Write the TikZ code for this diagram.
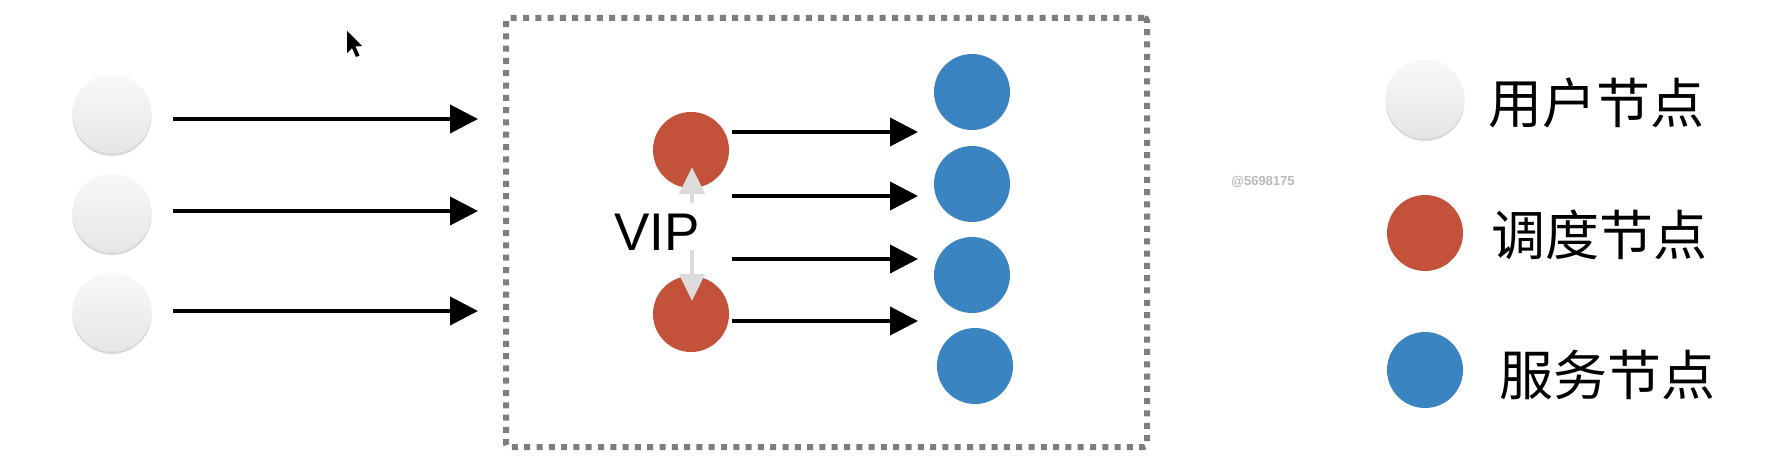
\documentclass[tikz,border=0pt]{standalone}
\usepackage{fontspec}
\setmainfont{Liberation Sans}
\newfontfamily\cjk{Noto Sans CJK SC}
\usetikzlibrary{arrows.meta,shadows}
\definecolor{redn}{HTML}{C4523A}
\definecolor{bluen}{HTML}{3A84C1}
\definecolor{boxgray}{HTML}{7E7E7E}
\definecolor{vipgray}{HTML}{DCDCDC}
\tikzset{
  usernode/.style={circle,minimum size=79pt,inner sep=0pt,top color=gray!5,bottom color=gray!20,draw=none,
    drop shadow={opacity=0.3,shadow xshift=0pt,shadow yshift=-2.5pt}},
  rednode/.style={circle,minimum size=76pt,inner sep=0pt,fill=redn,draw=none},
  bluenode/.style={circle,minimum size=76pt,inner sep=0pt,fill=bluen,draw=none},
  arr/.style={line width=4pt,-{Triangle[length=28pt,width=28pt]}},
  viparr/.style={draw=vipgray,line width=4.5pt,-{Triangle[length=27pt,width=25pt,fill=vipgray]}},
  legtext/.style={anchor=west,inner sep=0pt,font=\cjk\fontsize{54pt}{54pt}\selectfont},
}
\begin{document}
\begin{tikzpicture}[x=1pt,y=-1pt]
\useasboundingbox (0,0) rectangle (1776,468);
\fill[white] (0,0) rectangle (1776,468);
% dashed box
\node[draw=boxgray,line width=6pt,dash pattern=on 6pt off 6.3pt,rounded corners=3pt,minimum width=641pt,minimum height=429pt,inner sep=0pt] (box) at (826.5,232.5) {};
% user nodes
\node[usernode] (u1) at (112,114) {};
\node[usernode] (u2) at (112,213) {};
\node[usernode] (u3) at (112,312) {};
\coordinate (a1s) at (173,119); \coordinate (a1e) at (478,119);
\coordinate (a2s) at (173,211); \coordinate (a2e) at (478,211);
\coordinate (a3s) at (173,311); \coordinate (a3e) at (478,311);
\draw[arr] (a1s) -- (a1e);
\draw[arr] (a2s) -- (a2e);
\draw[arr] (a3s) -- (a3e);
% scheduler nodes
\node[rednode] (r1) at (691,150) {};
\node[rednode] (r2) at (691,314) {};
% VIP
\coordinate (v1s) at (692,203); \coordinate (v1e) at (692,167);
\coordinate (v2s) at (692,250); \coordinate (v2e) at (692,301);
\draw[viparr] (v1s) -- (v1e);
\draw[viparr] (v2s) -- (v2e);
\node[inner sep=0pt,font=\fontsize{53pt}{53pt}\selectfont] (vip) at (657,232) {VIP};
% service nodes
\node[bluenode] (s1) at (972,92) {};
\node[bluenode] (s2) at (972,184) {};
\node[bluenode] (s3) at (972,275) {};
\node[bluenode] (s4) at (975,366) {};
\coordinate (b1s) at (732,132); \coordinate (b1e) at (918,132);
\coordinate (b2s) at (732,196); \coordinate (b2e) at (918,196);
\coordinate (b3s) at (732,259); \coordinate (b3e) at (918,259);
\coordinate (b4s) at (732,321); \coordinate (b4e) at (918,321);
\draw[arr] (b1s) -- (b1e);
\draw[arr] (b2s) -- (b2e);
\draw[arr] (b3s) -- (b3e);
\draw[arr] (b4s) -- (b4e);
% legend
\node[usernode] (lu) at (1425,99) {};
\node[rednode] (lr) at (1425,233) {};
\node[bluenode] (lb) at (1425,370) {};
\node[legtext] (tu) at (1488,103) {用户节点};
\node[legtext] (tr) at (1491,235) {调度节点};
\node[legtext] (tb) at (1499,375) {服务节点};
% watermark
\node[inner sep=0pt,text=gray!55,font=\bfseries\fontsize{13pt}{13pt}\selectfont] (wm) at (1263,182) {@5698175};
% cursor
\fill[black] (347,31) -- (347,53) -- (352,48) -- (356,57) -- (359.5,55.5) -- (355.5,46.5) -- (362,46) -- cycle;
\end{tikzpicture}
\end{document}
